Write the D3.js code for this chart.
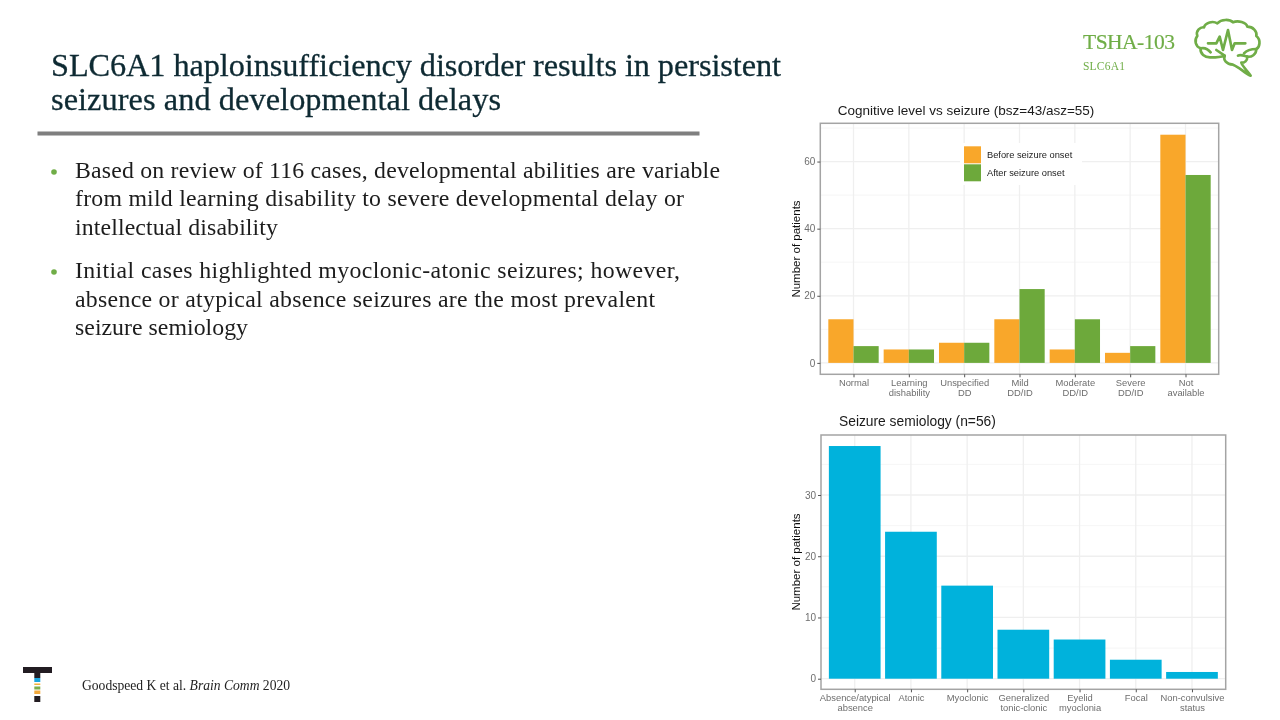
<!DOCTYPE html>
<html><head><meta charset="utf-8">
<script src="https://cdn.jsdelivr.net/npm/d3@7/dist/d3.min.js"></script>
<style>html,body{margin:0;padding:0;background:#fff}svg{display:block}</style>
</head><body><svg id="c" width="1280" height="720"></svg>
<script>
const cogCategories=["Normal","Learning\ndishability","Unspecified\nDD","Mild\nDD/ID","Moderate\nDD/ID","Severe\nDD/ID","Not\navailable"];
const cogBefore=[13,4,6,13,4,3,68];
const cogAfter=[5,4,6,22,13,5,56];
const cogTicks=[0,20,40,60];
const cogMinor=[10,30,50,70];
const semCategories=["Absence/atypical\nabsence","Atonic","Myoclonic","Generalized\ntonic-clonic","Eyelid\nmyoclonia","Focal","Non-convulsive\nstatus"];
const semValues=[38,24,15.2,8,6.4,3.1,1.1];
const semTicks=[0,10,20,30];
const semMinor=[5,15,25,35];
const legendLabels=["Before seizure onset","After seizure onset"];
const titleLines=["SLC6A1 haploinsufficiency disorder results in persistent","seizures and developmental delays"];
const bodyLines=["Based on review of 116 cases, developmental abilities are variable","from mild learning disability to severe developmental delay or","intellectual disability","Initial cases highlighted myoclonic-atonic seizures; however,","absence or atypical absence seizures are the most prevalent","seizure semiology"];
const ORANGE="#F9A72B",GREEN="#6DA93A",BLUE="#00B2DC",BRAND="#6FAD47";
const SERIF="'Liberation Serif',serif",SANS="'Liberation Sans',sans-serif";

const svg=d3.select("#c");
const defs=svg.append("defs");
defs.append("filter").attr("id","soft").attr("x","-5%").attr("y","-5%").attr("width","110%").attr("height","110%")
  .append("feGaussianBlur").attr("stdDeviation",0.6);
defs.append("filter").attr("id","softer").attr("x","-5%").attr("y","-5%").attr("width","110%").attr("height","110%")
  .append("feGaussianBlur").attr("stdDeviation",0.3);

function fit(g,t,x,y,len,size,fill,sw){
  return g.append("text").attr("x",x).attr("y",y).attr("font-family",SERIF).attr("font-size",size)
    .attr("fill",fill).attr("stroke",fill).attr("stroke-width",sw||0).attr("textLength",len).attr("lengthAdjust","spacing").text(t);
}
// Slide text
const slide=svg.append("g").attr("filter","url(#softer)");
[[51,76,730],[51,110,450]].forEach((p,i)=>fit(slide,titleLines[i],p[0],p[1],p[2],32.3,"#0E2A33",0.3));
slide.append("rect").attr("x",37.5).attr("y",131.5).attr("width",662).attr("height",4).attr("fill","#7F7F7F");
[[178,645],[206,609],[235,203],[278,605],[307,580],[335,173]].forEach((p,i)=>fit(slide,bodyLines[i],75,p[0],p[1],23.8,"#1c1c1c"));
[171,271].forEach(y=>slide.append("circle").attr("cx",54).attr("cy",y+1).attr("r",2.8).attr("fill",BRAND));
fit(slide,"TSHA-103",1083,49,92,21.5,BRAND,0.2);
fit(slide,"SLC6A1",1083,70,42,11.5,BRAND);
const src=slide.append("text").attr("x",82).attr("y",690).attr("font-family",SERIF).attr("font-size",13.6).attr("fill","#222");
src.append("tspan").text("Goodspeed K et al. ");
src.append("tspan").attr("font-style","italic").text("Brain Comm");
src.append("tspan").text(" 2020");

// Logo
const logo=svg.append("g").attr("filter","url(#softer)");
[[23,667,29,6,"#231F20"],[34.3,673,6,5,"#231F20"],[34.3,678,6,4,"#1AA7E0"],[34.3,683.5,6,1.5,"#F3B13A"],[34.3,686.5,6,3,"#7DAE4C"],[34.3,690.5,6,3.5,"#F3A93B"],[34.3,696,6,6,"#231F20"]]
 .forEach(r=>logo.append("rect").attr("x",r[0]).attr("y",r[1]).attr("width",r[2]).attr("height",r[3]).attr("fill",r[4]));

// Brain icon
const brain=svg.append("g").attr("filter","url(#softer)").attr("transform","translate(1188,14) scale(0.3333)").attr("fill","none").attr("stroke",BRAND).attr("stroke-width",8).attr("stroke-linejoin","round").attr("stroke-linecap","round");
["M70,130 C50,132 35,118 38,103 C22,98 18,78 28,66 C22,50 38,38 48,40 C52,25 75,20 88,28 C100,15 125,15 135,25 C150,18 175,25 178,38 C195,38 208,52 205,66 C220,78 215,100 205,105 C205,122 190,130 178,128 C178,140 170,146 160,146 C165,160 180,172 188,185 C170,178 155,160 135,152 C115,150 105,138 110,125 C95,130 80,130 70,130 Z",
 "M60,88 L85,88 L95,68 L105,108 L120,48 L132,108 L140,88 L172,88",
 "M38,103 C50,100 60,105 68,115","M205,105 C190,105 175,110 168,118","M150,125 C160,120 165,125 178,128","M110,125 L85,108"]
 .forEach(d=>brain.append("path").attr("d",d));

function panel(cfg){
  const g=svg.append("g").attr("filter","url(#soft)");
  const x=d3.scalePoint().domain(cfg.cats).range([cfg.l,cfg.r]).padding(0.6);
  const y=d3.scaleLinear().domain(cfg.yDomain).range([cfg.b,cfg.t]);
  const step=x.step();
  g.selectAll(null).data(cfg.minor).join("line").attr("x1",cfg.l).attr("x2",cfg.r).attr("y1",d=>y(d)).attr("y2",d=>y(d)).attr("stroke","#f4f4f4").attr("stroke-width",0.8);
  g.selectAll(null).data(cfg.ticks).join("line").attr("x1",cfg.l).attr("x2",cfg.r).attr("y1",d=>y(d)).attr("y2",d=>y(d)).attr("stroke","#efefef").attr("stroke-width",1.3);
  g.selectAll(null).data(cfg.cats).join("line").attr("x1",d=>x(d)).attr("x2",d=>x(d)).attr("y1",cfg.t).attr("y2",cfg.b).attr("stroke","#efefef").attr("stroke-width",1.3);
  cfg.draw(g,x,y,step);
  g.append("rect").attr("x",cfg.l).attr("y",cfg.t).attr("width",cfg.r-cfg.l).attr("height",cfg.b-cfg.t).attr("fill","none").attr("stroke","#a4a4a4").attr("stroke-width",1.5);
  const ax=g.append("g").attr("transform",`translate(${cfg.l},0)`).call(d3.axisLeft(y).tickValues(cfg.ticks).tickSize(3).tickPadding(2).tickFormat(d3.format("d")));
  ax.select(".domain").remove();
  ax.selectAll("line").attr("stroke","#555");
  ax.selectAll("text").attr("font-family",SANS).attr("font-size",10).attr("fill","#6e6e6e");
  const bx=g.append("g").attr("transform",`translate(0,${cfg.b})`).call(d3.axisBottom(x).tickSize(3).tickPadding(2));
  bx.select(".domain").remove();
  bx.selectAll("line").attr("stroke","#555");
  bx.selectAll("text").attr("font-family",SANS).attr("font-size",9.4).attr("fill","#6e6e6e").each(function(d){
    const t=d3.select(this);t.text(null);
    d.split("\n").forEach((s,i)=>t.append("tspan").attr("x",0).attr("dy",i?"1.07em":"0.71em").text(s));
  });
  g.append("text").attr("x",cfg.titleX).attr("y",cfg.titleY).attr("font-family",SANS).attr("font-size",cfg.titleSize).attr("fill","#1a1a1a").text(cfg.title);
  g.append("text").attr("transform",`translate(800,${(cfg.yLabelC)}) rotate(-90)`).attr("text-anchor","middle").attr("font-family",SANS).attr("font-size",11.5).attr("fill","#111").text("Number of patients");
}

panel({cats:cogCategories,l:820.3,r:1218.7,t:123.3,b:374.3,yDomain:[-3.4,71.4],ticks:cogTicks,minor:cogMinor,
  title:"Cognitive level vs seizure (bsz=43/asz=55)",titleX:837.7,titleY:115,titleSize:13.5,yLabelC:249,
  draw(g,x,y,step){
    const bw=step*0.455;
    const rows=cogCategories.map((c,i)=>({c,a:cogBefore[i],b:cogAfter[i]}));
    g.selectAll(null).data(rows).join("rect").attr("x",d=>x(d.c)-bw).attr("width",bw).attr("y",d=>y(d.a)).attr("height",d=>y(0)-y(d.a)).attr("fill",ORANGE);
    g.selectAll(null).data(rows).join("rect").attr("x",d=>x(d.c)).attr("width",bw).attr("y",d=>y(d.b)).attr("height",d=>y(0)-y(d.b)).attr("fill",GREEN);
    g.append("rect").attr("x",960).attr("y",143).attr("width",122).attr("height",42).attr("fill","#fff");
    legendLabels.forEach((t,i)=>{
      g.append("rect").attr("x",964).attr("y",146.3+18*i).attr("width",17).attr("height",17).attr("fill",[ORANGE,GREEN][i]);
      g.append("text").attr("x",987).attr("y",158+18*i).attr("font-family",SANS).attr("font-size",9.3).attr("fill","#222").text(t);
    });
  }});
panel({cats:semCategories,l:821,r:1225.7,t:435,b:689.3,yDomain:[-1.73,39.8],ticks:semTicks,minor:semMinor,
  title:"Seizure semiology (n=56)",titleX:839,titleY:426,titleSize:13.8,yLabelC:562,
  draw(g,x,y,step){
    const bw=step*0.92;
    const rows=semCategories.map((c,i)=>({c,v:semValues[i]}));
    g.selectAll(null).data(rows).join("rect").attr("x",d=>x(d.c)-bw/2).attr("width",bw).attr("y",d=>y(d.v)).attr("height",d=>y(0)-y(d.v)).attr("fill",BLUE);
  }});
</script></body></html>
